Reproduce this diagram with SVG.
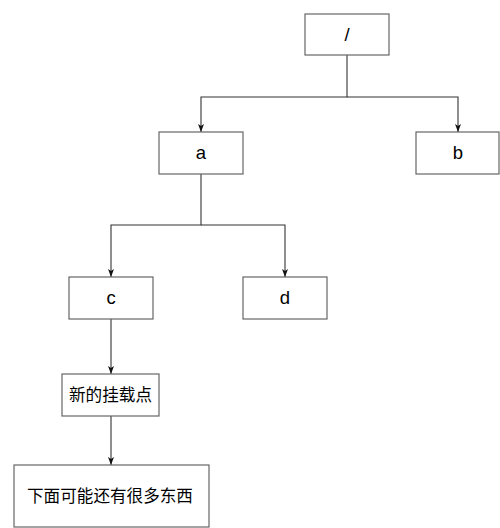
<svg xmlns="http://www.w3.org/2000/svg" width="500" height="528" viewBox="0 0 500 528">
<style>
.box{fill:#fff;stroke:#666;stroke-width:1.2}
.lbl{font-family:"Liberation Sans","Noto Sans CJK SC",sans-serif;font-size:18.5px;fill:#000;text-anchor:middle;dominant-baseline:central}
.cjk{font-size:16.6px}
.edge{fill:none;stroke:#333;stroke-width:1.1}
</style>
<defs>
<marker id="ah" viewBox="0 0 8 6" refX="8" refY="3" markerWidth="8" markerHeight="6" markerUnits="userSpaceOnUse" orient="auto">
<path d="M0,0 L8,3 L0,6 L2,3 Z" fill="#111"/>
</marker>
</defs>
<rect width="500" height="528" fill="#fff"/>
<g id="connectors">
<path class="edge" d="M347,55 V97 H201 V132" marker-end="url(#ah)"/>
<path class="edge" d="M347,97 H458 V132" marker-end="url(#ah)"/>
<path class="edge" d="M201,174 V225 H111 V277" marker-end="url(#ah)"/>
<path class="edge" d="M201,225 H285 V277" marker-end="url(#ah)"/>
<path class="edge" d="M111,319 V374" marker-end="url(#ah)"/>
<path class="edge" d="M111,416 V465" marker-end="url(#ah)"/>
</g>
<g id="root"><rect class="box" x="305" y="14" width="84" height="41"/><text class="lbl" x="347" y="34.5">/</text></g>
<g id="a"><rect class="box" x="159" y="132" width="84" height="42"/><text class="lbl" x="201" y="152.5">a</text></g>
<g id="b"><rect class="box" x="416" y="132" width="83" height="42"/><text class="lbl" x="458" y="152.5">b</text></g>
<g id="c"><rect class="box" x="69" y="277" width="84" height="42"/><text class="lbl" x="111" y="297.5">c</text></g>
<g id="d"><rect class="box" x="243" y="277" width="84" height="42"/><text class="lbl" x="285" y="297.5">d</text></g>
<g id="mount"><rect class="box" x="62" y="374" width="97" height="42"/><text class="lbl cjk" x="110.5" y="395">新的挂载点</text></g>
<g id="more"><rect class="box" x="14" y="465" width="195" height="62"/><text class="lbl cjk" x="110" y="496">下面可能还有很多东西</text></g>
</svg>
